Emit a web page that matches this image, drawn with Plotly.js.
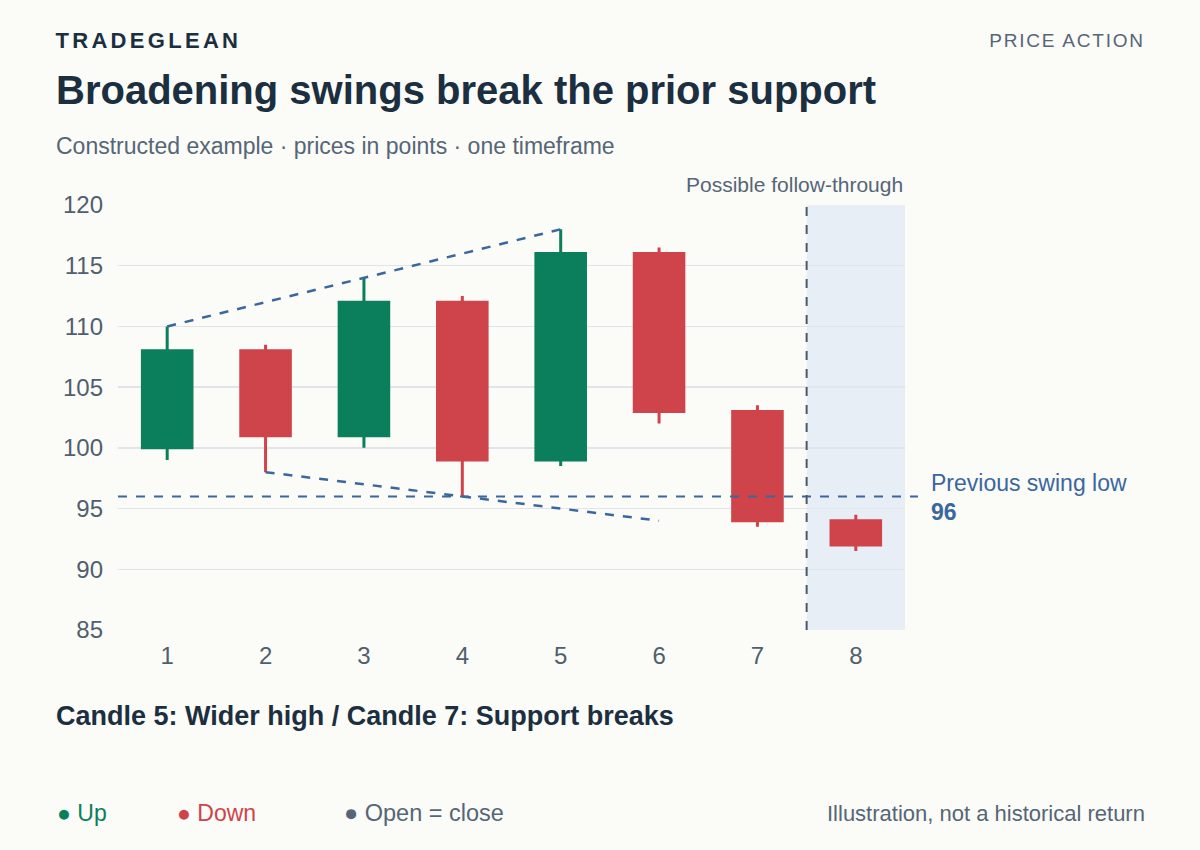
<!DOCTYPE html>
<html>
<head>
<meta charset="utf-8">
<script src="https://cdn.plot.ly/plotly-3.0.1.min.js"></script>
<style>
  html, body { margin: 0; padding: 0; background: #fbfbf8; }
  #chart { width: 1200px; height: 850px; }
  .annotation[data-index="0"] text { letter-spacing: 3.3px; }
  .annotation[data-index="1"] text { letter-spacing: 1.8px; }
</style>
</head>
<body>
<div id="chart"></div>
<script>
// candle data (points)
var candles = [1, 2, 3, 4, 5, 6, 7, 8];
var openPx  = [100, 108, 101, 112, 99, 116, 103, 94];
var highPx  = [110, 108.5, 114, 112.5, 118, 116.5, 103.5, 94.5];
var lowPx   = [99, 98, 100, 96, 98.5, 102, 93.5, 91.5];
var closePx = [108, 101, 112, 99, 116, 103, 94, 92];

// broadening swing lines
var upperX = [1, 3, 5];
var upperY = [110, 114, 118];
var lowerX = [2, 4, 6];
var lowerY = [98, 96, 94];

var swingLow = 96;
var breakAt = 7.5;

var yTicks = [85, 90, 95, 100, 105, 110, 115, 120];

var GREEN = '#0b7f5b';
var RED = '#cf434b';
var BLUE = '#3a679e';
var INK = '#1b2f40';
var GREY = '#556676';
var FONT = 'Liberation Sans, Arial, sans-serif';

// plot area in px: x 118..905, y 205..630
function px(x) { return (x - 118) / 787; }
function py(y) { return (630 - y) / 425; }

var data = [
  {
    type: 'candlestick',
    x: candles,
    open: openPx, high: highPx, low: lowPx, close: closePx,
    increasing: {line: {color: GREEN, width: 3}, fillcolor: GREEN},
    decreasing: {line: {color: RED, width: 3}, fillcolor: RED},
    whiskerwidth: 0,
    hoverinfo: 'x+y'
  },
  {
    type: 'scatter', mode: 'lines',
    x: upperX, y: upperY,
    line: {color: BLUE, width: 2.5, dash: 'dash'},
    hoverinfo: 'skip'
  },
  {
    type: 'scatter', mode: 'lines',
    x: lowerX, y: lowerY,
    line: {color: BLUE, width: 2.5, dash: 'dash'},
    hoverinfo: 'skip'
  }
];

var ann = function (text, x, y, size, color, anchor) {
  return {
    xref: 'paper', yref: 'paper', x: px(x), y: py(y),
    xanchor: anchor, yanchor: 'middle', showarrow: false,
    text: text, font: {family: FONT, size: size, color: color}
  };
};

var layout = {
  width: 1200, height: 850,
  paper_bgcolor: '#fbfbf8', plot_bgcolor: '#fbfbf8',
  margin: {l: 118, r: 295, t: 205, b: 220},
  showlegend: false,
  boxgap: 0.28,
  font: {family: FONT, color: GREY},
  xaxis: {
    range: [0.5, 8.5],
    tickvals: candles,
    ticktext: candles.map(String),
    tickfont: {size: 24, color: '#4f5f6e'},
    showgrid: false, zeroline: false, showline: false,
    rangeslider: {visible: false},
    ticks: '', ticklabelstandoff: 9
  },
  yaxis: {
    range: [85, 120],
    tickvals: yTicks,
    tickfont: {size: 24, color: '#4f5f6e'},
    gridcolor: '#e1e5ea', gridwidth: 1.5,
    zeroline: false, showline: false,
    ticks: '', ticklabelstandoff: 14
  },
  shapes: [
    {type: 'rect', xref: 'x', yref: 'paper', x0: breakAt, x1: 8.5, y0: 0, y1: 1,
     fillcolor: '#e8eef6', line: {width: 0}, layer: 'below'},
    {type: 'line', xref: 'paper', yref: 'y', x0: 0, x1: px(918), y0: swingLow, y1: swingLow,
     line: {color: BLUE, width: 2, dash: 'dash'}},
    {type: 'line', xref: 'x', yref: 'paper', x0: breakAt, x1: breakAt, y0: 0, y1: 1,
     line: {color: '#4c5968', width: 2, dash: 'dash'}}
  ],
  annotations: [
    ann('<b>TRADEGLEAN</b>', 148.5, 40, 22, INK, 'center'),
    ann('PRICE ACTION', 1067, 41, 19, GREY, 'center'),
    ann('<b>Broadening swings break the prior support</b>', 54, 90, 40, INK, 'left'),
    ann('Constructed example · prices in points · one timeframe', 54, 146, 23, GREY, 'left'),
    ann('Possible follow-through', 905, 185, 21, GREY, 'right'),
    ann('Previous swing low', 929, 483, 23, BLUE, 'left'),
    ann('<b>' + swingLow + '</b>', 929, 512, 23, BLUE, 'left'),
    ann('<b>Candle 5: Wider high / Candle 7: Support breaks</b>', 54, 716, 27, INK, 'left'),
    ann('● Up', 55, 813, 23, GREEN, 'left'),
    ann('● Down', 175, 813, 23, RED, 'left'),
    ann('● Open = close', 342, 813, 23.5, GREY, 'left'),
    ann('Illustration, not a historical return', 1147, 813, 22, GREY, 'right')
  ]
};

Plotly.newPlot('chart', data, layout, {displayModeBar: false, staticPlot: true});
</script>
</body>
</html>
